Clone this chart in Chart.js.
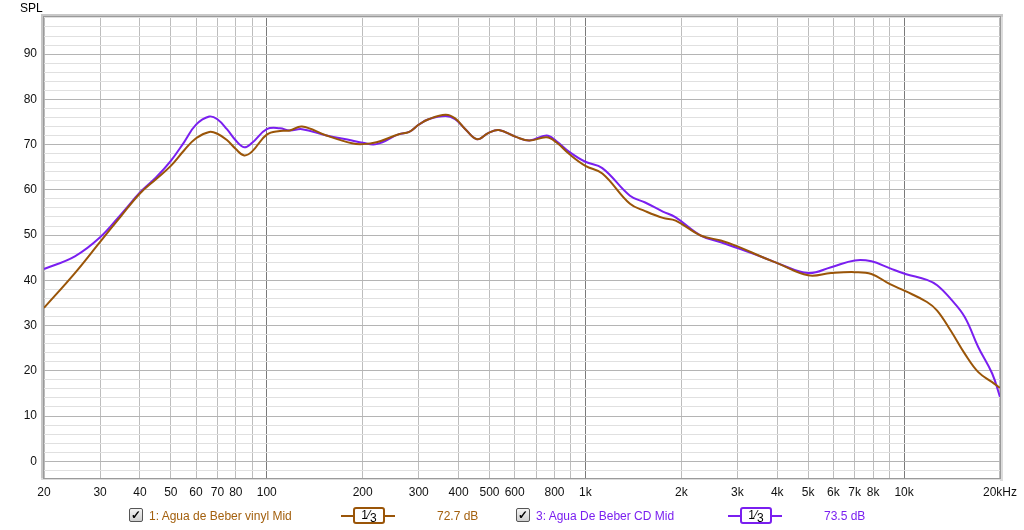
<!DOCTYPE html>
<html>
<head>
<meta charset="utf-8">
<script src="https://cdn.jsdelivr.net/npm/chart.js@4"></script>
<style>
  html, body { margin: 0; padding: 0; background: #fff; }
  #wrap { position: relative; width: 1024px; height: 530px; font-family: "Liberation Sans", Arial, sans-serif; }
  #chart { position: absolute; left: 0; top: 0; }
  .txt { position: absolute; font-size: 12px; white-space: nowrap; line-height: 14px; }
  .cb { position: absolute; width: 12px; height: 12px; border: 1px solid #555; border-radius: 2px;
        background: linear-gradient(#f4f4f4, #cfcfcf); font-size: 12px; line-height: 12px; text-align: center; color: #000; font-weight: bold; }
  .sym { position: absolute; height: 2px; }
  .box { position: absolute; width: 28px; height: 13px; border: 2px solid; border-radius: 3px; background: #fff;
         font-size: 12px; line-height: 13px; text-align: center; color: #000; }
</style>
</head>
<body>
<div id="wrap">
  <canvas id="chart" width="1024" height="530"></canvas>
  <div class="txt" style="left:20px;top:1px;color:#000;">SPL</div>

  <div class="cb" style="left:129px;top:508px;">&#10003;</div>
  <div class="txt" style="left:149px;top:509px;color:#a3600e;">1: Agua de Beber vinyl Mid</div>
  <div class="sym" style="left:341px;top:515px;width:54px;background:#9a5508;"></div>
  <div class="box" style="left:353px;top:507px;border-color:#9a5508;">1&frasl;<span style="position:relative;top:3px">3</span></div>
  <div class="txt" style="left:437px;top:509px;color:#a3600e;">72.7 dB</div>

  <div class="cb" style="left:516px;top:508px;">&#10003;</div>
  <div class="txt" style="left:536px;top:509px;color:#7a1ff0;">3: Agua De Beber CD Mid</div>
  <div class="sym" style="left:728px;top:515px;width:54px;background:#7a1ff0;"></div>
  <div class="box" style="left:740px;top:507px;border-color:#7a1ff0;">1&frasl;<span style="position:relative;top:3px">3</span></div>
  <div class="txt" style="left:824px;top:509px;color:#7a1ff0;">73.5 dB</div>
</div>

<script>
// ===============================
// DATA
// ===============================
const freqs = [20, 25, 30, 35, 40, 45, 50, 55, 60, 66, 70, 75, 80, 85, 90, 100, 110, 118, 129, 154,
    185, 200, 221, 260, 280, 300, 322, 364, 390, 420, 457, 497, 535, 605, 667, 755, 810, 890, 1000,
    1130, 1380, 1540, 1750, 1920, 2300, 2660, 3000, 3600, 4000, 5000, 5900, 7000, 7900, 9000, 10100,
    11800, 12700, 14000, 15500, 17100, 18900, 20000];

const vinylSpl = [33.9, 41.6, 48.5, 54.3, 59.2, 62.4, 65.3, 68.7, 71.4, 72.8, 72.4, 71.0, 69.0, 67.6, 68.5, 72.2, 73.0, 73.1, 74.0, 72.0,
    70.3, 70.1, 70.5, 72.3, 72.8, 74.4, 75.6, 76.6, 75.8, 73.4, 71.2, 72.6, 73.2, 71.7, 70.9, 71.6, 70.5, 67.9, 65.3,
    63.6, 56.9, 55.3, 53.8, 53.2, 49.9, 48.8, 47.5, 45.1, 43.8, 41.1, 41.6, 41.8, 41.4, 39.2, 37.6,
    35.2, 33.3, 28.9, 23.8, 19.7, 17.5, 16.2];

const cdSpl = [42.5, 45.3, 49.5, 54.7, 59.4, 62.8, 66.4, 70.5, 74.4, 76.2, 75.6, 73.4, 70.9, 69.4, 70.4, 73.4, 73.6, 73.1, 73.4, 72.0,
    70.9, 70.4, 70.1, 72.3, 72.8, 74.4, 75.6, 76.3, 75.6, 73.4, 71.2, 72.6, 73.2, 71.7, 70.9, 72.0, 70.8, 68.4, 66.2,
    64.8, 58.7, 57.2, 55.2, 53.9, 49.9, 48.4, 47.1, 45.1, 43.8, 41.6, 42.9, 44.4, 44.2, 42.7, 41.4,
    40.1, 38.9, 35.9, 31.9, 25.2, 19.4, 14.2];

// x ticks: every 1..9 x decade, only some labelled
const xTickValues = [20, 30, 40, 50, 60, 70, 80, 90, 100, 200, 300, 400, 500, 600, 700, 800, 900,
    1000, 2000, 3000, 4000, 5000, 6000, 7000, 8000, 9000, 10000, 20000];
const xTickLabels = {20: "20", 30: "30", 40: "40", 50: "50", 60: "60", 70: "70", 80: "80", 100: "100",
    200: "200", 300: "300", 400: "400", 500: "500", 600: "600", 800: "800", 1000: "1k",
    2000: "2k", 3000: "3k", 4000: "4k", 5000: "5k", 6000: "6k", 7000: "7k", 8000: "8k",
    10000: "10k", 20000: "20kHz"};

const yMin = -3.7;
const yMax = 98.2;

const brown = "#9a5508";
const purple = "#7a1ff0";

function toPoints(vals) {
    return freqs.map((f, i) => ({ x: f, y: vals[i] }));
}

// ===============================
// FRAME PLUGIN
// ===============================
const framePlugin = {
    id: "frame",
    afterDraw(chart) {
        const { ctx, chartArea: a } = chart;
        ctx.save();
        // shaded left/top edge
        ctx.fillStyle = "#c8c8c8";
        ctx.fillRect(a.left - 3, a.top - 3, 3, a.bottom - a.top + 3);
        ctx.fillRect(a.left - 3, a.top - 3, a.right - a.left + 6, 3);
        ctx.fillStyle = "#dcdcdc";
        ctx.fillRect(a.right, a.top, 3, a.bottom - a.top + 3);
        ctx.fillRect(a.left - 3, a.bottom, a.right - a.left + 6, 2);
        ctx.strokeStyle = "#9a9a9a";
        ctx.lineWidth = 1;
        ctx.strokeRect(a.left - 0.5, a.top - 0.5, a.right - a.left + 1, a.bottom - a.top + 1);
        ctx.restore();
    }
};

// ===============================
// CHART
// ===============================
new Chart(document.getElementById("chart"), {
    type: "line",
    data: {
        datasets: [
            {
                label: "1: Agua de Beber vinyl Mid",
                data: toPoints(vinylSpl),
                borderColor: brown,
                borderWidth: 2,
                pointRadius: 0,
                tension: 0.4,
                fill: false
            },
            {
                label: "3: Agua De Beber CD Mid",
                data: toPoints(cdSpl),
                borderColor: purple,
                borderWidth: 2,
                pointRadius: 0,
                tension: 0.4,
                fill: false
            }
        ]
    },
    options: {
        responsive: false,
        animation: false,
        clip: false,
        layout: { padding: { top: 17, right: 21, left: 0, bottom: 0 } },
        plugins: {
            legend: { display: false },
            tooltip: { enabled: false }
        },
        scales: {
            x: {
                type: "logarithmic",
                min: 20,
                max: 20000,
                afterBuildTicks(scale) {
                    scale.ticks = xTickValues.map(v => ({ value: v }));
                },
                afterFit(scale) {
                    scale.height = 52;
                },
                ticks: {
                    autoSkip: false,
                    maxRotation: 0,
                    padding: 7,
                    color: "#111",
                    font: { family: "Liberation Sans", size: 12 },
                    callback: (v) => xTickLabels[v] || ""
                },
                grid: {
                    drawTicks: false,
                    color: (c) => {
                        const v = c.tick ? c.tick.value : 0;
                        return (v === 100 || v === 1000 || v === 10000) ? "#7a7a7a" : "#bdbdbd";
                    }
                },
                border: { display: false }
            },
            y: {
                min: yMin,
                max: yMax,
                afterBuildTicks(scale) {
                    const t = [];
                    for (let v = -2; v <= 98; v += 2) t.push({ value: v });
                    scale.ticks = t;
                },
                afterFit(scale) {
                    scale.width = 44;
                },
                ticks: {
                    autoSkip: false,
                    padding: 7,
                    color: "#111",
                    font: { family: "Liberation Sans", size: 12 },
                    callback: (v) => (v % 10 === 0 && v >= 0 && v <= 90) ? String(v) : ""
                },
                grid: {
                    drawTicks: false,
                    color: (c) => {
                        const v = c.tick ? c.tick.value : 1;
                        return v % 10 === 0 ? "#b4b4b4" : "#e0e0e0";
                    }
                },
                border: { display: false }
            }
        }
    },
    plugins: [framePlugin]
});
</script>
</body>
</html>
